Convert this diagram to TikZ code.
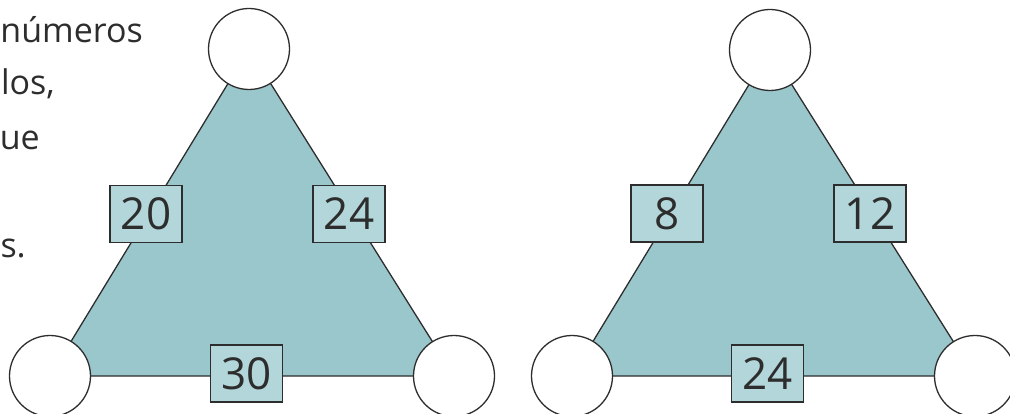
\documentclass[tikz,border=0pt]{standalone}
\usepackage{fontspec}
\setmainfont{Open Sans}
\definecolor{trifill}{RGB}{154,199,204}
\definecolor{boxfill}{RGB}{178,214,217}
\definecolor{inkgray}{RGB}{45,45,45}
\tikzset{
vertex/.style={circle, draw=inkgray, fill=white, line width=1.3pt, minimum size=81pt, inner sep=0pt},
sumbox/.style={rectangle, draw=inkgray, fill=boxfill, line width=1.3pt, minimum width=72pt, minimum height=57pt, inner sep=0pt, text=inkgray, font=\fontsize{44}{44}\selectfont},
side/.style={draw=inkgray, line width=1.3pt},
prose/.style={anchor=base east, inner sep=0pt, text=inkgray, font=\fontsize{34}{34}\selectfont}}
\begin{document}
\begin{tikzpicture}[x=1pt,y=1pt,yscale=-1]
\useasboundingbox (0,0) rectangle (1010,414);

% Text Node
\node [prose] (p1) at (143,43) {números};
% Text Node
\node [prose] (p2) at (55,95) {los,};
% Text Node
\node [prose] (p3) at (40,150) {ue};
% Text Node
\node [prose] (p4) at (26,258) {s.};

%Shape: Circle (left triangle)
\coordinate (lt) at (249,49);
\coordinate (ll) at (50,376);
\coordinate (lr) at (454,376);
%Shape: Circle (right triangle)
\coordinate (rt) at (770,50);
\coordinate (rl) at (572,376);
\coordinate (rr) at (975,376);

%Shape: Triangle
\fill [trifill] (lt) -- (ll) -- (lr) -- cycle;
\fill [trifill] (rt) -- (rl) -- (rr) -- cycle;
%Straight Lines
\draw [side] (lt) -- (ll) -- (lr) -- cycle;
\draw [side] (rt) -- (rl) -- (rr) -- cycle;

%Shape: Circle
\node [vertex] (lta) at (lt) {};
\node [vertex] (lla) at (ll) {};
\node [vertex] (lra) at (lr) {};
\node [vertex] (rta) at (rt) {};
\node [vertex] (rla) at (rl) {};
\node [vertex] (rra) at (rr) {};

% Text Node
\node [sumbox] (lleft) at (146,214) {20};
\node [sumbox] (lright) at (349,214) {24};
\node [sumbox] (lbase) at (246.5,373.5) {30};
% Text Node
\node [sumbox] (rleft) at (667,213.5) {8};
\node [sumbox] (rright) at (870,213.5) {12};
\node [sumbox] (rbase) at (767.5,373.5) {24};

\end{tikzpicture}
\end{document}
